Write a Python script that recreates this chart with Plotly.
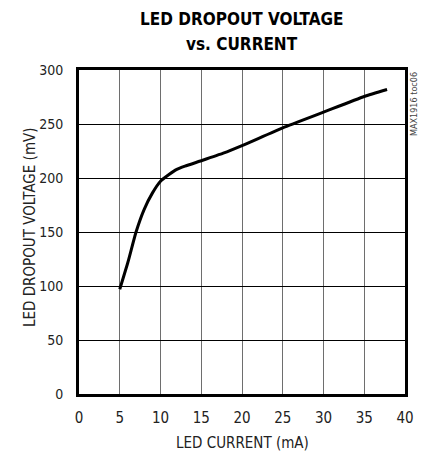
import plotly.graph_objects as go

# Data
led_current_ma = [5, 6, 7, 8, 9, 10, 11, 12, 13, 15, 17.7, 20, 25, 30, 35, 37.8]
dropout_mv = [97, 122, 150, 171, 186, 197, 203, 208, 211, 216, 223, 230, 246.5, 261, 275.5, 282]

x_ticks = [0, 5, 10, 15, 20, 25, 30, 35, 40]
y_ticks = [0, 50, 100, 150, 200, 250, 300]

title_lines = ["LED DROPOUT VOLTAGE", "vs. CURRENT"]

FONT = "DejaVu Sans Condensed, Liberation Sans Narrow, Arial Narrow, sans-serif"

fig = go.Figure()
fig.add_trace(go.Scatter(
    x=led_current_ma, y=dropout_mv, mode="lines",
    line=dict(color="black", width=3, shape="spline", smoothing=0.5),
    showlegend=False, hoverinfo="skip",
))

fig.update_layout(
    width=430, height=460,
    margin=dict(l=79, r=25, t=70, b=66),
    paper_bgcolor="white", plot_bgcolor="white",
    font=dict(family=FONT, size=15, color="black"),
    xaxis=dict(
        range=[0, 40], tickvals=x_ticks, ticktext=[str(v) for v in x_ticks],
        showgrid=True, gridcolor="#6e6e6e", gridwidth=1.3,
        showline=True, linecolor="black", linewidth=3, mirror=True,
        ticks="", ticklen=0, zeroline=False, ticklabelstandoff=8,
        automargin=False,
        tickfont=dict(family=FONT, size=15, color="#222"),
    ),
    yaxis=dict(
        range=[0, 300], tickvals=y_ticks, ticktext=[str(v) for v in y_ticks],
        showgrid=True, gridcolor="black", gridwidth=1,
        showline=True, linecolor="black", linewidth=3, mirror=True,
        ticks="", ticklen=0, zeroline=False, ticklabelstandoff=10,
        automargin=False,
        tickfont=dict(family=FONT, size=14, color="#222"),
    ),
)

fig.add_annotation(
    text="LED CURRENT (mA)", xref="paper", yref="paper",
    x=0.5, y=0, xanchor="center", yanchor="middle",
    yshift=-49, showarrow=False,
    font=dict(family=FONT, size=15, color="#222"),
)

fig.add_annotation(
    text="LED DROPOUT VOLTAGE (mV)", xref="paper", yref="paper",
    x=0, y=0.5, xanchor="center", yanchor="middle",
    xshift=-49, yshift=5, textangle=-90, showarrow=False,
    font=dict(family=FONT, size=15, color="#222"),
)

for i, line in enumerate(title_lines):
    fig.add_annotation(
        text="<b>" + line + "</b>", xref="paper", yref="paper",
        x=0.5, y=1.0, xanchor="center", yanchor="middle",
        yshift=51 - 25 * i, showarrow=False,
        font=dict(family=FONT, size=17, color="black"),
    )

fig.add_annotation(
    text="MAX1916 toc06", xref="paper", yref="paper",
    x=1.0, y=1.0, xanchor="left", yanchor="top", xshift=2,
    textangle=-90, showarrow=False,
    font=dict(family=FONT, size=9, color="#444"),
)

fig.write_html("out.html")
